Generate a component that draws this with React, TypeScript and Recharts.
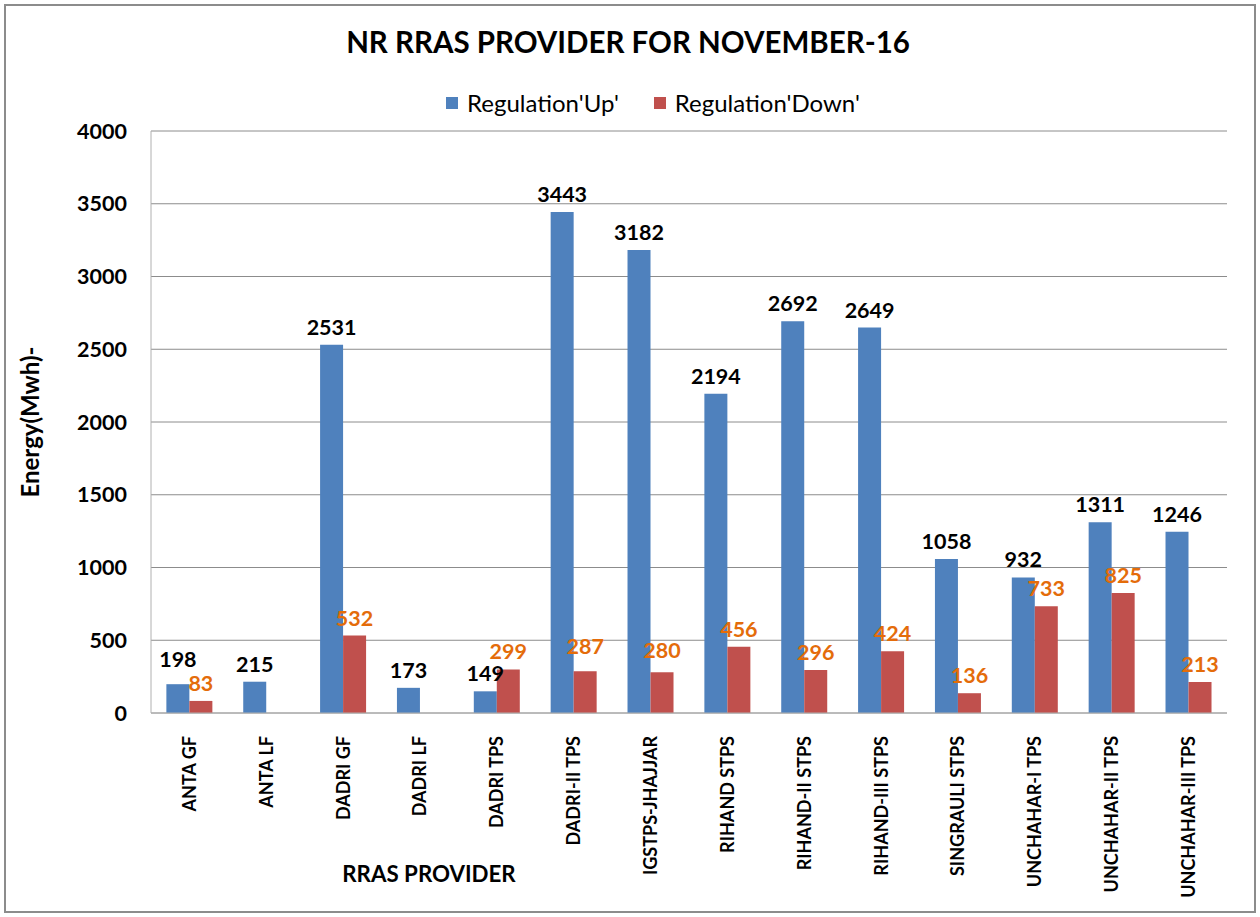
import { Bar, BarChart, CartesianGrid, LabelList, XAxis, YAxis } from "recharts"

const providers = [
  "ANTA GF",
  "ANTA LF",
  "DADRI GF",
  "DADRI LF",
  "DADRI TPS",
  "DADRI-II TPS",
  "IGSTPS-JHAJJAR",
  "RIHAND STPS",
  "RIHAND-II STPS",
  "RIHAND-III STPS",
  "SINGRAULI STPS",
  "UNCHAHAR-I TPS",
  "UNCHAHAR-II TPS",
  "UNCHAHAR-III TPS",
]
const regulationUp = [198, 215, 2531, 173, 149, 3443, 3182, 2194, 2692, 2649, 1058, 932, 1311, 1246]
const regulationDown = [83, null, 532, null, 299, 287, 280, 456, 296, 424, 136, 733, 825, 213]
const yTicks = [0, 500, 1000, 1500, 2000, 2500, 3000, 3500, 4000]

const data = providers.map((name, i) => ({
  name,
  up: regulationUp[i],
  down: regulationDown[i],
}))

const FONT = "Lato, 'Open Sans', sans-serif"
const BLUE = "#4F81BD"
const RED = "#C0504D"
const LABEL_SIZE = 21.5
const LABEL_GAP = 10

function CategoryTick({ x, y, payload }: any) {
  return (
    <g transform={`translate(${x},${y + 15})`}>
      <text
        x={0}
        y={0}
        dy="0.36em"
        transform="rotate(-90)"
        textAnchor="end"
        fill="#000"
        fontFamily={FONT}
        fontWeight="bold"
        fontSize={18}
      >
        {payload.value}
      </text>
    </g>
  )
}

// value label above its bar; the taller bar of a pair lifts its label over the
// neighbour's label when the two would run into each other
function makeValueLabel(other: (number | null)[], color: string) {
  return function ValueLabel({ x, y, width, height, value, index }: any) {
    if (value == null) return null
    let baseline = y - LABEL_GAP
    const o = other[index]
    if (o != null && value > 0 && value >= o) {
      const otherTop = y + height - (height * o) / value
      const limit = otherTop - LABEL_GAP - LABEL_SIZE - 2
      if (baseline > limit) baseline = limit
    }
    return (
      <text
        x={x + width / 2}
        y={baseline}
        textAnchor="middle"
        fill={color}
        fontFamily={FONT}
        fontWeight="bold"
        fontSize={LABEL_SIZE}
      >
        {value}
      </text>
    )
  }
}

const UpLabel = makeValueLabel(regulationDown, "#000")
const DownLabel = makeValueLabel(regulationUp, "#E46C0A")

export default function App() {
  return (
    <div style={{ position: "fixed", left: 0, top: 0, width: 1260, height: 917, background: "#fff", fontFamily: FONT }}>
      <div
        style={{
          position: "absolute",
          left: 4,
          top: 4,
          width: 1252,
          height: 909,
          border: "2px solid #8c8c8c",
          boxSizing: "border-box",
        }}
      />
      <div
        style={{
          position: "absolute",
          left: 0,
          width: 1256,
          top: 24,
          textAlign: "center",
          fontSize: 29.5,
          fontWeight: "bold",
          color: "#000",
        }}
      >
        NR RRAS PROVIDER FOR NOVEMBER-16
      </div>
      <div
        style={{
          position: "absolute",
          left: 446,
          top: 88,
          display: "flex",
          alignItems: "center",
          fontSize: 24,
          color: "#000",
        }}
      >
        <span style={{ width: 12, height: 12, background: BLUE, display: "inline-block", marginRight: 9 }} />
        <span style={{ marginRight: 35 }}>Regulation'Up'</span>
        <span style={{ width: 12, height: 12, background: RED, display: "inline-block", marginRight: 9 }} />
        <span>Regulation'Down'</span>
      </div>
      <div style={{ position: "absolute", left: 0, top: 0 }}>
        <BarChart
          width={1260}
          height={917}
          data={data}
          margin={{ top: 131, right: 33, left: 10, bottom: 29 }}
          barGap={0}
          barCategoryGap="20%"
        >
          <CartesianGrid vertical={false} stroke="#8c8c8c" />
          <XAxis
            dataKey="name"
            interval={0}
            height={175}
            tick={<CategoryTick />}
            tickLine={false}
            axisLine={{ stroke: "#b0b0b0" }}
            label={{
              value: "RRAS PROVIDER",
              position: "insideBottom",
              offset: 6,
              dx: -260,
              style: { fontFamily: FONT, fontWeight: "bold", fontSize: 22.3, fill: "#000" },
            }}
          />
          <YAxis
            width={141}
            domain={[0, 4000]}
            ticks={yTicks}
            tickLine={false}
            tickMargin={18}
            axisLine={{ stroke: "#b0b0b0" }}
            tick={{ fontFamily: FONT, fontWeight: "bold", fontSize: 21.5, fill: "#000" }}
            label={{
              value: "Energy(Mwh)-",
              angle: -90,
              position: "insideLeft",
              offset: 20,
              style: { textAnchor: "middle", fontFamily: FONT, fontWeight: "bold", fontSize: 24, fill: "#000" },
            }}
          />
          <Bar dataKey="up" name="Regulation'Up'" fill={BLUE} isAnimationActive={false}>
            <LabelList dataKey="up" content={<UpLabel />} />
          </Bar>
          <Bar dataKey="down" name="Regulation'Down'" fill={RED} isAnimationActive={false}>
            <LabelList dataKey="down" content={<DownLabel />} />
          </Bar>
        </BarChart>
      </div>
    </div>
  )
}
